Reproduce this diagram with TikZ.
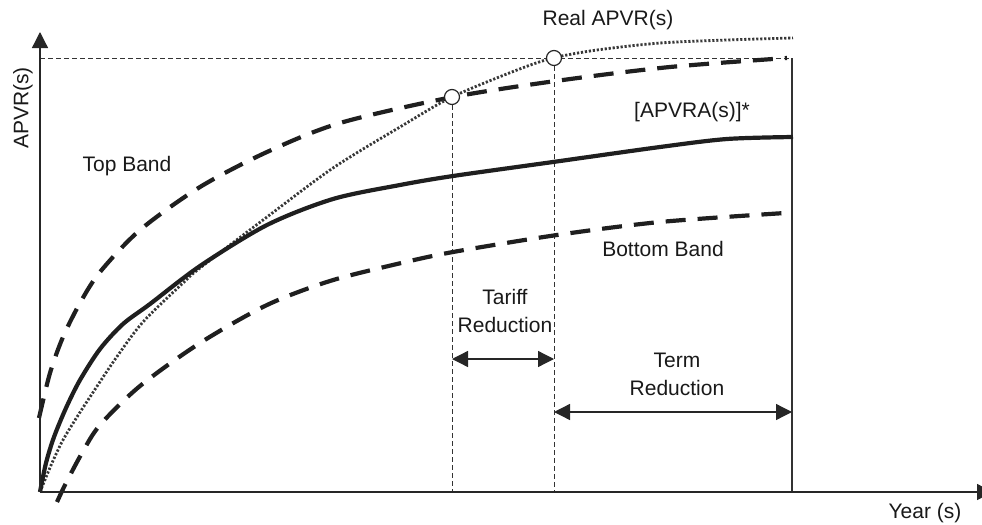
\documentclass[tikz,border=0pt]{standalone}
\usepackage{fontspec}
\setmainfont{Liberation Sans}
\usetikzlibrary{arrows.meta}
\begin{document}
\begin{tikzpicture}[x=0.5pt,y=-0.5pt,
  lbl/.style={font=\fontsize{10.5}{14}\selectfont, inner sep=0pt, align=center, text=black!90},
  band/.style={line width=2.1pt, dash pattern=on 10pt off 6pt, color=black!88},
  real/.style={line width=1.4pt, dash pattern=on 1.1pt off 0.9pt, color=black!78},
  avg/.style={line width=2.1pt, color=black!88},
  guide/.style={line width=0.5pt, dash pattern=on 2.5pt off 1.5pt, color=black!80},
  frame/.style={line width=0.6pt, color=black!80},
  axis/.style={line width=0.65pt, color=black!85, -{Triangle[length=8pt,width=8pt]}},
  dim/.style={line width=0.65pt, color=black!85, {Triangle[length=8pt,width=8pt]}-{Triangle[length=8pt,width=8pt]}},
  pt/.style={circle, draw=black!85, fill=white, line width=0.6pt, minimum size=7.5pt, inner sep=0pt}]
\useasboundingbox (0,0) rectangle (982,525);

% key coordinates
\coordinate (O) at (40,492);
\coordinate (ytip) at (40,32);
\coordinate (xtip) at (993,492);
\coordinate (ya) at (40,58);
\coordinate (tr) at (792,58);
\coordinate (b1) at (452,492);
\coordinate (b2) at (554,492);
\coordinate (b3) at (792,492);
\coordinate (ta) at (452,359);
\coordinate (tb) at (554,359);
\coordinate (ra) at (554,412);
\coordinate (rb) at (792,412);

% guide lines
\draw[guide] (ya) -- (tr);
\draw[guide] (452,97) -- (b1);
\draw[guide] (554,58) -- (b2);
\draw[frame] (tr) -- (b3);

% curves
\draw[band] plot[smooth] coordinates {(39,418) (50,373) (63,337) (80,303) (100,272) (140,230) (200,187) (267,152) (340,123) (453,97) (563,80) (670,67) (787,58)};
\draw[band] plot[smooth] coordinates {(57,502) (65,485) (82,453) (100,425) (140,386) (200,343) (267,305) (330,281) (397,264) (453,252) (557,235) (660,222) (785,213)};
\draw[real] plot[smooth] coordinates {(40,492) (52,463) (63,440) (77,417) (90,397) (116,358) (143,322) (183,283) (200,268) (267,217) (333,168) (400,127) (452,97) (517,70) (553,58) (597,50) (660,43) (727,40) (793,38)};
\draw[avg] plot[smooth] coordinates {(40,492) (46,463) (54,437) (66,408) (80,380) (100,349) (123,324) (150,304) (200,266) (267,225) (333,199) (400,185) (453,176) (553,162) (660,147) (727,139) (793,137)};

% axes
\draw[axis] (O) -- (ytip);
\draw[axis] (O) -- (xtip);

% intersection markers
\node[pt] (c1) at (452,97) {};
\node[pt] (c2) at (554,58) {};

% dimension arrows
\draw[dim] (ta) -- (tb);
\draw[dim] (ra) -- (rb);

% labels
\node[lbl] (real) at (608,20) {Real APVR(s)};
\node[lbl, rotate=90] (ylab) at (23,108) {APVR(s)};
\node[lbl] (top) at (127,166) {Top Band};
\node[lbl] (avgl) at (692,112) {[APVRA(s)]*};
\node[lbl] (bot) at (663,249) {Bottom Band};
\node[lbl] (tariff) at (505,311) {Tariff\\Reduction};
\node[lbl] (term) at (677,374) {Term\\Reduction};
\node[lbl] (xlab) at (925,513) {Year (s)};
\end{tikzpicture}
\end{document}
